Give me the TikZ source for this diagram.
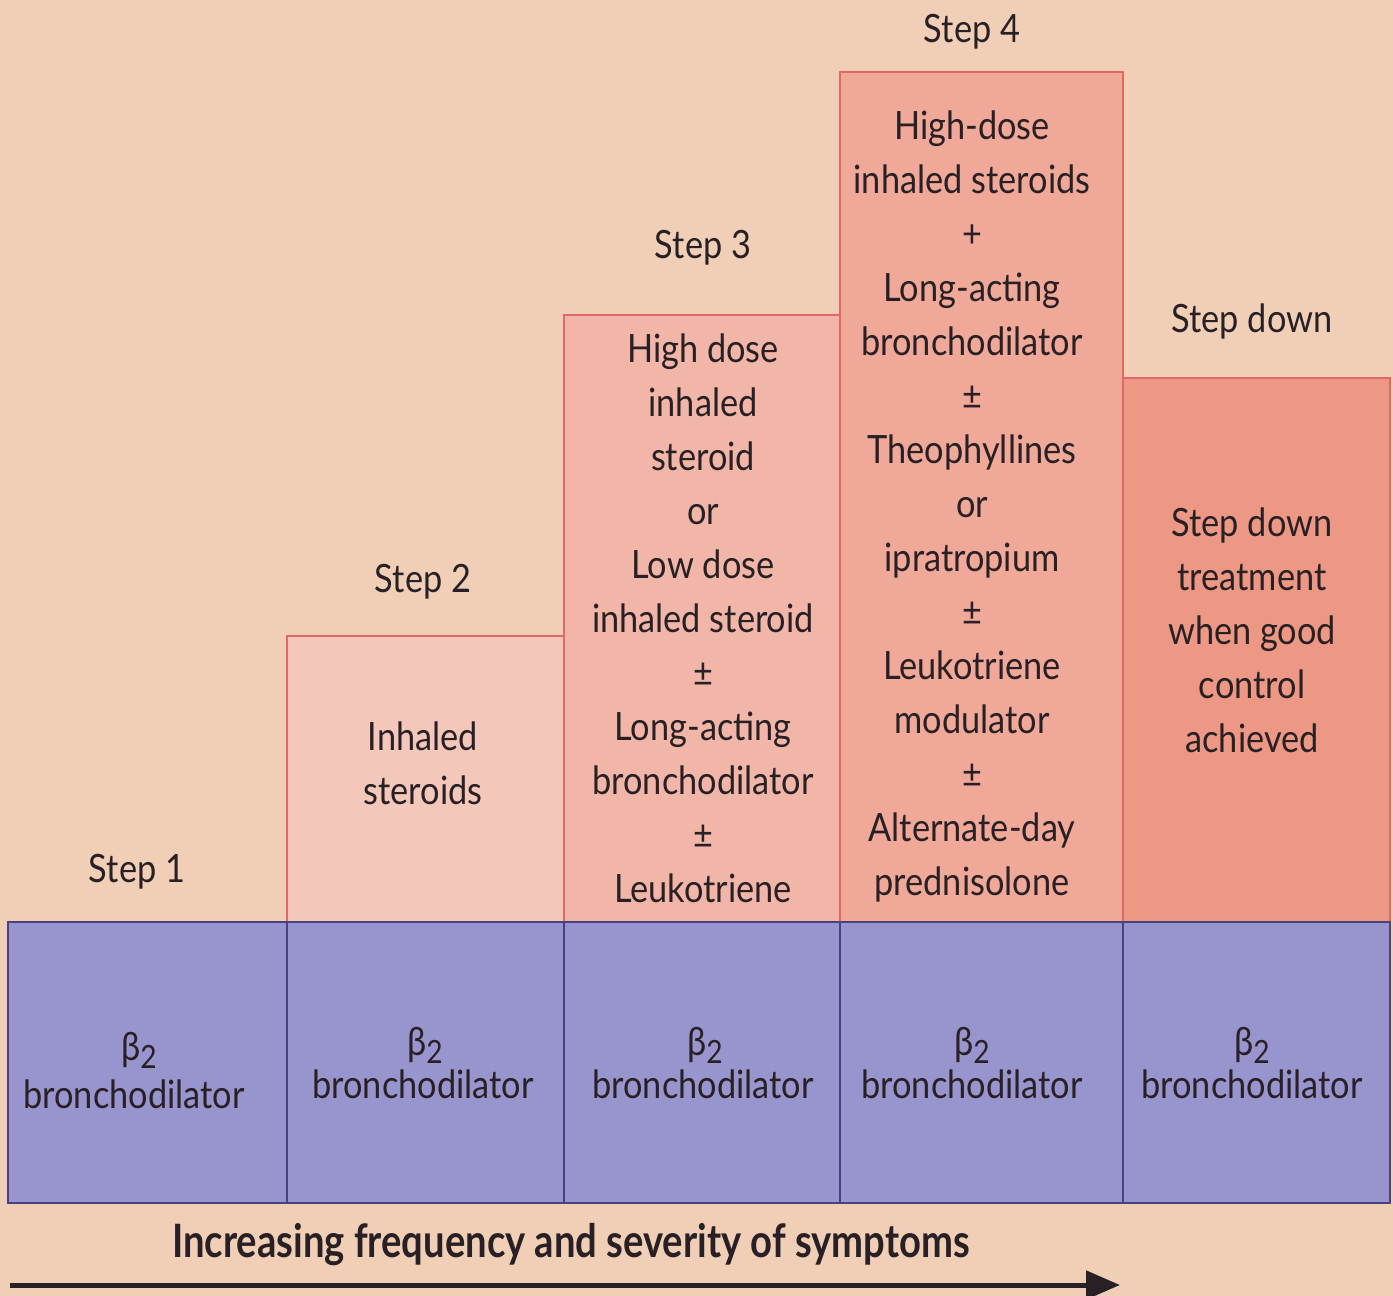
\documentclass[tikz,border=0pt]{standalone}
\usepackage{fontspec}
\setmainfont[FakeStretch=0.88]{Lato}
\newfontfamily\titlefont[FakeStretch=0.83]{Lato}
\usetikzlibrary{arrows.meta}
\definecolor{bgpeach}{RGB}{240,207,182}
\definecolor{boxtwo}{RGB}{244,199,187}
\definecolor{boxthree}{RGB}{241,182,168}
\definecolor{boxfour}{RGB}{240,168,152}
\definecolor{boxdown}{RGB}{236,152,132}
\definecolor{bandblue}{RGB}{152,148,206}
\definecolor{boxedge}{RGB}{226,104,104}
\definecolor{bandedge}{RGB}{72,66,128}
\definecolor{inkcol}{RGB}{40,32,36}
\newcommand\lnst{\rule[-13pt]{0pt}{54pt}}
\newcommand\betatwo{β\raisebox{-8pt}{\fontsize{32}{32}\selectfont 2}}
\tikzset{
  bodytext/.style={align=center, inner sep=0pt, text=inkcol,
    font=\fontsize{39}{54}\selectfont},
  basetext/.style={anchor=base, inner sep=0pt, text=inkcol,
    font=\fontsize{39}{54}\selectfont},
  redbox/.style={draw=boxedge, line width=1.2pt},
  bandline/.style={draw=bandedge, line width=1.3pt},
  titletext/.style={inner sep=0pt, text=inkcol,
    font=\titlefont\bfseries\fontsize{46}{54}\selectfont},
  bigarrow/.style={draw=inkcol, line width=5pt, -{Triangle[length=34pt,width=28pt]}}
}
\begin{document}
\begin{tikzpicture}[x=1pt,y=-1pt]
\useasboundingbox (0,0) rectangle (1393,1296);
\fill[bgpeach] (0,0) rectangle (1393,1296);
% step boxes
\fill[boxtwo] (287,636) rectangle (564,922);
\fill[boxthree] (564,315) rectangle (840,922);
\fill[boxfour] (840,72) rectangle (1123,922);
\fill[boxdown] (1123,378) rectangle (1390,922);
\draw[redbox] (287,922) -- (287,636) -- (564,636) -- (564,922);
\draw[redbox] (564,636) -- (564,315) -- (840,315) -- (840,922);
\draw[redbox] (840,315) -- (840,72) -- (1123,72) -- (1123,922);
\draw[redbox] (1123,378) -- (1390,378) -- (1390,922);
% blue band
\fill[bandblue] (8,922) rectangle (1390,1203);
\draw[bandline] (8,922) rectangle (1390,1203);
\draw[bandline] (287,922) -- (287,1203);
\draw[bandline] (564,922) -- (564,1203);
\draw[bandline] (840,922) -- (840,1203);
\draw[bandline] (1123,922) -- (1123,1203);
% step labels
\node[bodytext] (lab1) at (137,868) {\lnst Step 1};
\node[bodytext] (lab2) at (423,578) {\lnst Step 2};
\node[bodytext] (lab3) at (703,244) {\lnst Step 3};
\node[bodytext] (lab4) at (972,28) {\lnst Step 4};
\node[bodytext] (labd) at (1252,318) {\lnst Step down};
% box contents
\node[bodytext] (txt2) at (423,763) {\lnst Inhaled\\\lnst steroids};
\node[bodytext] (txt3) at (703,618.5) {\lnst High dose\\\lnst inhaled\\\lnst steroid\\\lnst or\\\lnst Low dose\\\lnst inhaled steroid\\\lnst ±\\\lnst Long-acting\\\lnst bronchodilator\\\lnst ±\\\lnst Leukotriene};
\node[bodytext] (txt4) at (972,503.5) {\lnst High-dose\\\lnst inhaled steroids\\\lnst +\\\lnst Long-acting\\\lnst bronchodilator\\\lnst ±\\\lnst Theophyllines\\\lnst or\\\lnst ipratropium\\\lnst ±\\\lnst Leukotriene\\\lnst modulator\\\lnst ±\\\lnst Alternate-day\\\lnst prednisolone};
\node[bodytext] (txtd) at (1252,630.5) {\lnst Step down\\\lnst treatment\\\lnst when good\\\lnst control\\\lnst achieved};
% blue band contents
\node[basetext] (beta1) at (139,1060) {\betatwo};
\node[basetext] (bron1) at (134,1108) {bronchodilator};
\node[basetext] (beta2) at (425,1055) {\betatwo};
\node[basetext] (bron2) at (423,1098) {bronchodilator};
\node[basetext] (beta3) at (705,1055) {\betatwo};
\node[basetext] (bron3) at (703,1098) {bronchodilator};
\node[basetext] (beta4) at (972,1055) {\betatwo};
\node[basetext] (bron4) at (972,1098) {bronchodilator};
\node[basetext] (beta5) at (1252,1055) {\betatwo};
\node[basetext] (bron5) at (1252,1098) {bronchodilator};
% axis
\node[titletext] (axistitle) at (571,1245) {Increasing frequency and severity of symptoms};
\coordinate (arrstart) at (10,1285);
\coordinate (arrend) at (1120,1285);
\draw[bigarrow] (arrstart) -- (arrend);
\end{tikzpicture}
\end{document}
